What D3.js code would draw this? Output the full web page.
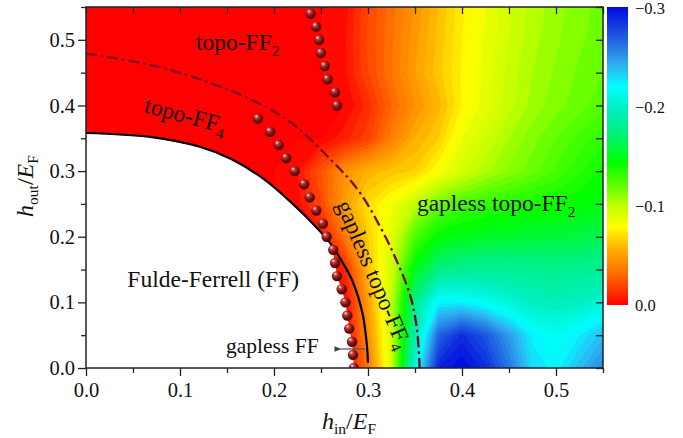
<!DOCTYPE html>
<html>
<head>
<meta charset="utf-8">
<script src="https://cdn.jsdelivr.net/npm/d3@7"></script>
<style>
body{margin:0;background:#fff;}
svg text{font-family:"Liberation Serif","Times New Roman",serif;fill:#111;}
</style>
</head>
<body>
<svg id="chart" width="683" height="438"></svg>
<script>
//DONNEES-------------------------------------------------

// grille des valeurs (h_in en colonnes, h_out en lignes)
let hIn = [0,0.025,0.05,0.075,0.1,0.125,0.15,0.175,0.2,0.225,0.25,0.275,0.3,0.325,0.35,0.375,0.4,0.425,0.45,0.475,0.5,0.525,0.55];
let hOut = [0,0.05,0.1,0.15,0.2,0.25,0.3,0.35,0.4,0.45,0.5,0.55];

let gapValues = [
  [0,0,0,0,0,0,0,0,0,0,0,0,-0.035,-0.095,-0.21,-0.29,-0.3,-0.287,-0.26,-0.23,-0.222,-0.238,-0.255],
  [0,0,0,0,0,0,0,0,0,0,0,0,-0.045,-0.095,-0.19,-0.267,-0.287,-0.272,-0.248,-0.223,-0.215,-0.225,-0.238],
  [0,0,0,0,0,0,0,0,0,0,0,0,-0.05,-0.1,-0.18,-0.223,-0.224,-0.216,-0.206,-0.198,-0.195,-0.198,-0.205],
  [0,0,0,0,0,0,0,0,0,0,0,-0.01,-0.06,-0.095,-0.15,-0.175,-0.18,-0.182,-0.182,-0.18,-0.178,-0.18,-0.182],
  [0,0,0,0,0,0,0,0,0,0,-0.005,-0.035,-0.065,-0.09,-0.125,-0.145,-0.15,-0.153,-0.155,-0.157,-0.158,-0.16,-0.163],
  [0,0,0,0,0,0,0,0,0,-0.003,-0.02,-0.05,-0.07,-0.083,-0.1,-0.118,-0.127,-0.132,-0.136,-0.139,-0.141,-0.144,-0.147],
  [0,0,0,0,0,0,0,0,0,-0.005,-0.025,-0.045,-0.057,-0.062,-0.066,-0.08,-0.093,-0.103,-0.111,-0.118,-0.126,-0.134,-0.142],
  [0,0,0,0,0,0,0,0,0,0,0,-0.008,-0.018,-0.038,-0.055,-0.065,-0.085,-0.095,-0.105,-0.113,-0.12,-0.127,-0.133],
  [0,0,0,0,0,0,0,0,0,0,0,0,-0.012,-0.03,-0.045,-0.058,-0.076,-0.088,-0.098,-0.107,-0.113,-0.118,-0.123],
  [0,0,0,0,0,0,0,0,0,0,0,-0.004,-0.02,-0.035,-0.05,-0.063,-0.076,-0.087,-0.097,-0.105,-0.111,-0.116,-0.12],
  [0,0,0,0,0,0,0,0,0,0,0,-0.004,-0.021,-0.034,-0.048,-0.062,-0.075,-0.086,-0.095,-0.103,-0.109,-0.114,-0.118],
  [0,0,0,0,0,0,0,0,0,0,0,-0.003,-0.02,-0.033,-0.046,-0.06,-0.074,-0.085,-0.094,-0.102,-0.108,-0.113,-0.117]
];

// echelle de couleur (valeur -> couleur)
let colorValues = [0,-0.013,-0.033,-0.056,-0.079,-0.1,-0.12,-0.144,-0.174,-0.197,-0.22,-0.241,-0.268,-0.3];
let colorList = ["#ff0000","#ff3000","#ff7000","#ffb000","#ffff00","#c0ff00","#60ff00","#00ff00","#00f080","#00f0c0","#00ffff","#30b0f0","#2060e0","#0008e0"];

// courbes
let blackCurve = [[0.300,0.008],[0.299,0.032],[0.294,0.084],[0.283,0.134],[0.272,0.163],[0.260,0.190],[0.244,0.216],[0.220,0.250],[0.190,0.287],[0.155,0.318],[0.121,0.337],[0.068,0.352],[0,0.358]];
let dashDot = [[0,0.479],[0.068,0.462],[0.121,0.440],[0.174,0.410],[0.217,0.375],[0.26,0.318],[0.29,0.27],[0.313,0.215],[0.33,0.165],[0.345,0.11],[0.352,0.06],[0.355,0]];
let ffRegion = [[0,0],[0.285,0],[0.284,0.02],[0.283,0.04],[0.28,0.06],[0.278,0.08],[0.276,0.1],[0.272,0.12],[0.267,0.14],[0.265,0.16],[0.262,0.18],[0.258,0.193],[0.244,0.216],[0.220,0.250],[0.190,0.287],[0.155,0.318],[0.121,0.337],[0.068,0.352],[0,0.358]];

// points (spheres)
let dotsUpper = [[0.239,0.54],[0.245,0.52],[0.248,0.50],[0.250,0.48],[0.254,0.46],[0.257,0.44],[0.265,0.42],[0.267,0.40]];
let dotsLower = [[0.183,0.38],[0.196,0.36],[0.205,0.34],[0.213,0.32],[0.222,0.30],[0.232,0.28],[0.238,0.26],[0.245,0.24],[0.252,0.22],[0.256,0.20],[0.263,0.18],[0.265,0.16],[0.267,0.14],[0.272,0.12],[0.276,0.10],[0.278,0.08],[0.280,0.06],[0.283,0.04],[0.284,0.02],[0.285,0.00]];

// graduations
let xTicks = [0,0.1,0.2,0.3,0.4,0.5];
let xMinor = [0.05,0.15,0.25,0.35,0.45,0.55];
let yTicks = [0,0.1,0.2,0.3,0.4,0.5];
let yMinor = [0.05,0.15,0.25,0.35,0.45,0.55];
let cbTicks = [0,-0.1,-0.2,-0.3];


//GRAPHIQUE-----------------------------------------------

let svg = d3.select("#chart");
let x = d3.scaleLinear().domain([0,0.55]).range([86,603]);
let y = d3.scaleLinear().domain([0,0.55]).range([368,7]);
let color = d3.scaleLinear().domain(colorValues).range(colorList).clamp(true);

let defs = svg.append("defs");
defs.append("clipPath").attr("id","plotclip")
  .append("rect").attr("x",86).attr("y",7).attr("width",517).attr("height",361);

let ball = defs.append("radialGradient").attr("id","ball")
  .attr("cx","0.4").attr("cy","0.35").attr("r","0.65").attr("fx","0.33").attr("fy","0.28");
ball.append("stop").attr("offset","0").attr("stop-color","#fff0f0");
ball.append("stop").attr("offset","0.25").attr("stop-color","#c04545");
ball.append("stop").attr("offset","0.6").attr("stop-color","#8a1010");
ball.append("stop").attr("offset","1").attr("stop-color","#420000");

defs.append("marker").attr("id","arrow").attr("viewBox","0 0 10 10")
  .attr("refX",1).attr("refY",5).attr("markerWidth",7).attr("markerHeight",7)
  .attr("markerUnits","userSpaceOnUse").attr("orient","auto")
  .append("path").attr("d","M10,1 L0,5 L10,9 z").attr("fill","#444");

// carte de couleur par contours
let nx = hIn.length, ny = hOut.length;
let flat = [];
gapValues.forEach(function(row){ row.forEach(function(v){ flat.push(v); }); });
let thresholds = d3.range(0,61).map(function(i){ return +(-0.3 + i*0.005).toFixed(4); });
let contours = d3.contours().size([nx,ny]).thresholds(thresholds)(flat);
let dxg = hIn[1]-hIn[0], dyg = hOut[1]-hOut[0];
let proj = d3.geoTransform({point: function(px,py){
  this.stream.point(x(hIn[0]+(px-0.5)*dxg), y(hOut[0]+(py-0.5)*dyg));
}});
let gpath = d3.geoPath(proj);

let plot = svg.append("g").attr("clip-path","url(#plotclip)");
plot.selectAll("path.band")
  .data(contours)
  .enter().append("path")
  .attr("class","band")
  .attr("d",gpath)
  .attr("fill",function(d){ return color(d.value+0.0025); })
  .attr("stroke",function(d){ return color(d.value+0.0025); })
  .attr("stroke-width",0.3);

// region FF en blanc
let line = d3.line().x(function(d){ return x(d[0]); }).y(function(d){ return y(d[1]); });
plot.append("path").attr("d",line(ffRegion)+"Z").attr("fill","#fff");

plot.append("path")
  .attr("d",line.curve(d3.curveCatmullRom)(blackCurve))
  .attr("fill","none").attr("stroke","#000").attr("stroke-width",2.2);

plot.append("path")
  .attr("d",line.curve(d3.curveCatmullRom)(dashDot))
  .attr("fill","none").attr("stroke","#7b0d1e").attr("stroke-width",2.3)
  .attr("stroke-dasharray","11,4,2.5,4");

plot.selectAll("circle.ball")
  .data(dotsUpper.concat(dotsLower))
  .enter().append("circle")
  .attr("class","ball")
  .attr("cx",function(d){ return x(d[0]); })
  .attr("cy",function(d){ return y(d[1]); })
  .attr("r",5.2)
  .attr("fill","url(#ball)");

// fleche "gapless FF"
svg.append("line")
  .attr("x1",x(0.297)).attr("y1",y(0.029))
  .attr("x2",x(0.271)).attr("y2",y(0.029))
  .attr("stroke","#555").attr("stroke-width",1.3)
  .attr("marker-end","url(#arrow)");

// axes
let fmt = d3.format(".1f");
svg.append("g").attr("transform","translate(0,368)")
  .call(d3.axisBottom(x).tickValues(xTicks).tickFormat(fmt).tickSize(8).tickPadding(6));
svg.append("g").attr("transform","translate(0,368)")
  .call(d3.axisBottom(x).tickValues(xMinor).tickFormat("").tickSize(5));
svg.append("g").attr("transform","translate(86,0)")
  .call(d3.axisLeft(y).tickValues(yTicks).tickFormat(fmt).tickSize(8).tickPadding(3));
svg.append("g").attr("transform","translate(86,0)")
  .call(d3.axisLeft(y).tickValues(yMinor).tickFormat("").tickSize(5));
svg.append("g").attr("transform","translate(0,7)")
  .call(d3.axisTop(x).tickValues(xTicks.concat(xMinor)).tickFormat("").tickSize(-7));
svg.append("g").attr("transform","translate(603,0)")
  .call(d3.axisRight(y).tickValues(yTicks.concat(yMinor)).tickFormat("").tickSize(-7));

svg.selectAll(".domain").remove();
svg.selectAll(".tick line").attr("stroke","#222").attr("stroke-width",1.3);
svg.selectAll(".tick text").attr("font-size",20.5).attr("fill","#111")
  .attr("font-family","'Liberation Serif','Times New Roman',serif");

svg.append("rect").attr("x",86).attr("y",7).attr("width",517).attr("height",361)
  .attr("fill","none").attr("stroke","#222").attr("stroke-width",1.5);

// titres des axes
let tx = svg.append("text").attr("x",349).attr("y",429).attr("text-anchor","middle").attr("font-size",24);
tx.append("tspan").attr("font-style","italic").text("h");
tx.append("tspan").attr("font-size",15.5).attr("dy",5).text("in");
tx.append("tspan").attr("dy",-5).text("/");
tx.append("tspan").attr("font-style","italic").text("E");
tx.append("tspan").attr("font-size",15.5).attr("dy",5).text("F");

let ty = svg.append("text").attr("transform","translate(33,186) rotate(-90)").attr("text-anchor","middle").attr("font-size",24);
ty.append("tspan").attr("font-style","italic").text("h");
ty.append("tspan").attr("font-size",15.5).attr("dy",5).text("out");
ty.append("tspan").attr("dy",-5).text("/");
ty.append("tspan").attr("font-style","italic").text("E");
ty.append("tspan").attr("font-size",15.5).attr("dy",5).text("F");

// etiquettes des phases
function label(txt, sub, xx, yy, rot, size){
  let t = svg.append("text").attr("font-size",size || 23.5)
    .attr("transform","translate("+x(xx)+","+y(yy)+") rotate("+rot+")");
  t.append("tspan").text(txt);
  if(sub){ t.append("tspan").attr("font-size",15.5).attr("dy",6).text(sub); }
}
label("topo-FF","2",0.117,0.484,0);
label("topo-FF","4",0.061,0.390,15);
label("gapless topo-FF","2",0.352,0.239,0);
label("gapless topo-FF","4",0.266,0.249,67);
label("Fulde-Ferrell (FF)",null,0.044,0.123,0);
label("gapless FF",null,0.149,0.023,0,21.5);

// barre de couleur
let cb = d3.scaleLinear().domain([0,-0.3]).range([306,9]);
let grad = defs.append("linearGradient").attr("id","cbgrad")
  .attr("x1",0).attr("y1",1).attr("x2",0).attr("y2",0);
grad.selectAll("stop").data(colorValues).enter().append("stop")
  .attr("offset",function(d){ return d/-0.3; })
  .attr("stop-color",function(d,i){ return colorList[i]; });
svg.append("rect").attr("x",607).attr("y",cb(-0.3)-2).attr("width",21)
  .attr("height",cb(0)-cb(-0.3)+1).attr("fill","url(#cbgrad)");
svg.selectAll("text.cb").data(cbTicks).enter().append("text")
  .attr("class","cb").attr("x",635).attr("y",function(d){ return cb(d)+5; })
  .attr("font-size",16.5).text(function(d){ return d===0 ? "0.0" : fmt(d); });
</script>
</body>
</html>
